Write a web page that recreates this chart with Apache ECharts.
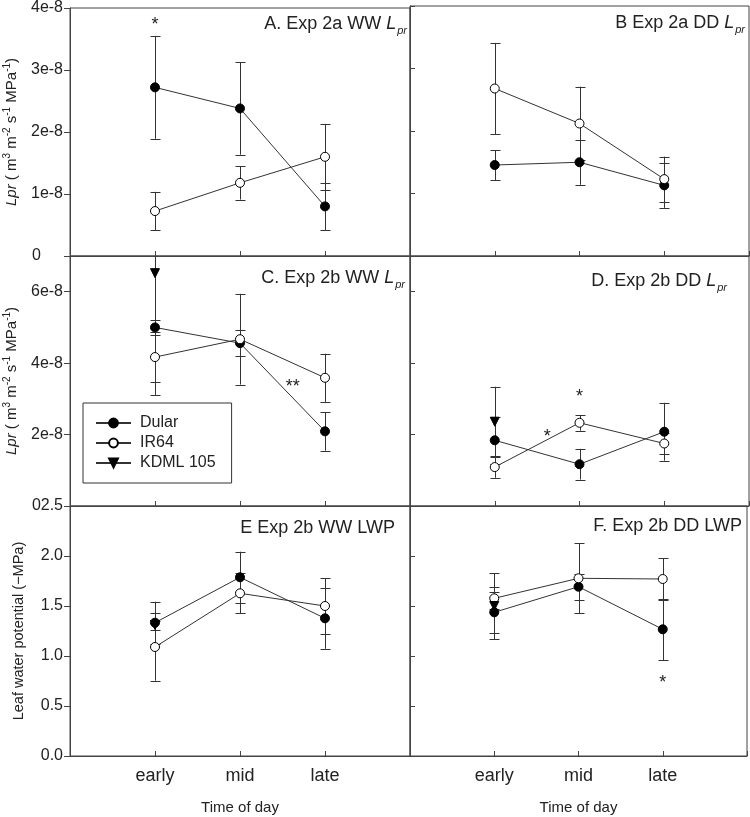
<!DOCTYPE html>
<html>
<head>
<meta charset="utf-8">
<script src="https://cdn.jsdelivr.net/npm/echarts@6/dist/echarts.min.js"></script>
<style>
html, body { margin: 0; padding: 0; background: #fff; }
#chart { width: 750px; height: 817px; }
</style>
</head>
<body>
<div id="chart"></div>
<script>
'use strict'
var categories = ['early', 'mid', 'late']
var varieties = ['Dular', 'IR64', 'KDML 105']

// A. Exp 2a WW Lpr
var aDular = [2.72e-8, 2.38e-8, 0.80e-8]
var aDularErr = [0.83e-8, 0.745e-8, 0.38e-8]
var aIR64 = [0.725e-8, 1.18e-8, 1.60e-8]
var aIR64Err = [0.31e-8, 0.27e-8, 0.53e-8]
// B Exp 2a DD Lpr
var bDular = [1.456e-8, 1.50e-8, 1.13e-8]
var bDularErr = [0.24e-8, 0.36e-8, 0.36e-8]
var bIR64 = [2.68e-8, 2.12e-8, 1.23e-8]
var bIR64Err = [0.73e-8, 0.59e-8, 0.36e-8]
// C. Exp 2b WW Lpr
var cDular = [5.0e-8, 4.56e-8, 2.09e-8]
var cDularErr = [0.21e-8, 0.355e-8, 0.54e-8]
var cIR64 = [4.17e-8, 4.67e-8, 3.59e-8]
var cIR64Err = [0.71e-8, 1.27e-8, 0.675e-8]
var cKDML = [6.52e-8, null, null]
var cKDMLErr = [3.41e-8, null, null]
// D. Exp 2b DD Lpr
var dDular = [1.84e-8, 1.17e-8, 2.08e-8]
var dDularErr = [0.66e-8, 0.43e-8, 0.81e-8]
var dIR64 = [1.09e-8, 2.33e-8, 1.75e-8]
var dIR64Err = [0.30e-8, 0.22e-8, 0.29e-8]
var dKDML = [2.36e-8, null, null]
var dKDMLErr = [0.98e-8, null, null]
// E Exp 2b WW LWP
var eDular = [1.333, 1.787, 1.377]
var eDularErr = [0.21, 0.256, 0.305]
var eIR64 = [1.09, 1.627, 1.50]
var eIR64Err = [0.337, 0.20, 0.28]
var eKDML = [1.31, null, null]
var eKDMLErr = [0.045, null, null]
// F. Exp 2b DD LWP
var fDular = [1.437, 1.693, 1.267]
var fDularErr = [0.206, 0.13, 0.307]
var fIR64 = [1.577, 1.777, 1.77]
var fIR64Err = [0.11, 0.35, 0.207]
var fKDML = [1.50, null, null]
var fKDMLErr = [0.33, null, null]

// significance marks: [position on time axis (1 = early), value, text]
var aStars = [[1, 3.81e-8, '*']]
var cStars = [[2.62, 3.48e-8, '**']]
var dStars = [[2, 3.20e-8, '*'], [1.62, 2.08e-8, '*']]
var fStars = [[3, 0.777, '*']]

var FONT = "'Liberation Sans', Arial, sans-serif"
var INK = '#222'
var LINE = '#444'

var symbols = {
	'Dular': { symbol: 'circle', rotate: 0, fill: '#000' },
	'IR64': { symbol: 'circle', rotate: 0, fill: '#fff' },
	'KDML 105': { symbol: 'triangle', rotate: 180, fill: '#000' }
}

var panels = [
	{ title: 'A. Exp 2a WW ', sub: true, tx: 407, ty: 24, row: 0, col: 0,
		data: [[aDular, aDularErr], [aIR64, aIR64Err]], stars: aStars },
	{ title: 'B Exp 2a DD ', sub: true, tx: 745, ty: 23, row: 0, col: 1,
		data: [[bDular, bDularErr], [bIR64, bIR64Err]], stars: [] },
	{ title: 'C. Exp 2b WW ', sub: true, tx: 405, ty: 278, row: 1, col: 0,
		data: [[cDular, cDularErr], [cIR64, cIR64Err], [cKDML, cKDMLErr]], stars: cStars },
	{ title: 'D. Exp 2b DD ', sub: true, tx: 727, ty: 281, row: 1, col: 1,
		data: [[dDular, dDularErr], [dIR64, dIR64Err], [dKDML, dKDMLErr]], stars: dStars },
	{ title: 'E Exp 2b WW LWP', sub: false, tx: 395, ty: 528, row: 2, col: 0,
		data: [[eDular, eDularErr], [eIR64, eIR64Err], [eKDML, eKDMLErr]], stars: [] },
	{ title: 'F. Exp 2b DD LWP', sub: false, tx: 742, ty: 526, row: 2, col: 1,
		data: [[fDular, fDularErr], [fIR64, fIR64Err], [fKDML, fKDMLErr]], stars: fStars }
]

var rowAxes = [
	{ min: 0, max: 4e-8, interval: 1e-8 },
	{ min: 0, max: 7e-8, interval: 2e-8 },
	{ min: 0, max: 2.5, interval: 0.5 }
]

function lprLabel(v) {
	if (v === 0) return '{z|0}'
	if (v > 6.5e-8) return ''
	return Math.round(v * 1e8) + 'e-8'
}

var lprName = '{i|Lpr}{n| ( m}{u|3}{n| m}{u|-2}{n| s}{u|-1}{n| MPa}{u|-1}{n|)}'
var nameRich = {
	i: { fontFamily: FONT, fontSize: 15, fontStyle: 'italic', color: INK },
	n: { fontFamily: FONT, fontSize: 15, color: INK },
	u: { fontFamily: FONT, fontSize: 10, color: INK, padding: [0, 0, 9, 0] }
}

function renderErrorBar(params, api) {
	var x = api.value(0), mean = api.value(1), err = api.value(2)
	var cs = params.coordSys
	var top = api.coord([x, mean + err])
	var bottom = api.coord([x, mean - err])
	var px = Math.round(top[0]) + 0.5
	var y1 = Math.max(top[1], cs.y), y2 = Math.min(bottom[1], cs.y + cs.height)
	var style = { stroke: '#333', lineWidth: 1 }
	var kids = [{ type: 'line', shape: { x1: px, y1: y1, x2: px, y2: y2 }, style: style }]
	if (top[1] >= cs.y) {
		var ty = Math.round(top[1]) + 0.5
		kids.push({ type: 'line', shape: { x1: px - 5, y1: ty, x2: px + 5, y2: ty }, style: style })
	}
	if (bottom[1] <= cs.y + cs.height) {
		var by = Math.round(bottom[1]) + 0.5
		kids.push({ type: 'line', shape: { x1: px - 5, y1: by, x2: px + 5, y2: by }, style: style })
	}
	return { type: 'group', children: kids }
}

var grid = [], xAxis = [], yAxis = [], series = [], graphic = []

panels.forEach(function (p, i) {
	var left = p.col === 0 ? 70 : 410
	grid.push({ left: left, top: 6 + p.row * 250, width: p.col === 0 ? 340 : 339, height: 250,
		show: true, borderColor: LINE, borderWidth: 1, containLabel: false })
	var bottomRow = p.row === 2
	xAxis.push({
		type: 'value', gridIndex: i, min: 0, max: 4, interval: 1,
		axisLine: { show: true, lineStyle: { color: LINE } },
		axisTick: { show: true, inside: true, length: 5, lineStyle: { color: LINE } },
		splitLine: { show: false },
		axisLabel: { show: bottomRow, margin: 11, fontSize: 18, fontFamily: FONT, color: INK,
			formatter: function (v) { return categories[v - 1] || '' } },
		name: bottomRow ? 'Time of day' : '', nameLocation: 'middle', nameGap: 44,
		nameTextStyle: { fontSize: 15, fontFamily: FONT, color: INK }
	})
	var ax = rowAxes[p.row]
	var leftCol = p.col === 0
	var yName = ''
	if (leftCol) yName = p.row === 2 ? 'Leaf water potential (\u2212MPa)' : lprName
	yAxis.push({
		type: 'value', gridIndex: i, min: ax.min, max: ax.max, interval: ax.interval,
		axisLine: { show: true, lineStyle: { color: LINE } },
		axisTick: { show: true, inside: !leftCol, length: leftCol ? 6 : 5, lineStyle: { color: LINE } },
		splitLine: { show: false },
		axisLabel: { show: leftCol, margin: 7, fontSize: 16, fontFamily: FONT, color: INK,
			formatter: p.row === 2 ? function (v) { return v.toFixed(1) } : lprLabel,
			rich: { z: { fontSize: 16, fontFamily: FONT, color: INK, padding: [0, 22, 0, 0] } } },
		name: yName, nameLocation: 'middle', nameRotate: 90, nameGap: p.row === 2 ? 44 : 49,
		nameTextStyle: p.row === 2 ? { fontSize: 14.5, fontFamily: FONT, color: INK } : { rich: nameRich }
	})

	// error bars below the markers
	var bars = []
	p.data.forEach(function (d) {
		d[0].forEach(function (v, k) { if (v !== null) bars.push([k + 1, v, d[1][k]]) })
	})
	series.push({ type: 'custom', xAxisIndex: i, yAxisIndex: i, data: bars, z: 1,
		renderItem: renderErrorBar, silent: true })

	p.data.forEach(function (d, j) {
		var name = varieties[j]
		var s = symbols[name]
		var pts = []
		d[0].forEach(function (v, k) { if (v !== null) pts.push([k + 1, v]) })
		series.push({
			type: 'line', name: name, xAxisIndex: i, yAxisIndex: i, data: pts, z: 3,
			symbol: s.symbol, symbolRotate: s.rotate, symbolSize: 9, showSymbol: true,
			lineStyle: { color: '#333', width: 1 },
			itemStyle: { color: s.fill, borderColor: '#000', borderWidth: 1 },
			emphasis: { disabled: true }, silent: true
		})
	})

	if (p.stars.length) {
		var stars = p.stars
		series.push({
			type: 'custom', xAxisIndex: i, yAxisIndex: i, z: 4, silent: true,
			data: stars.map(function (s) { return [s[0], s[1]] }),
			renderItem: function (params, api) {
				var c = api.coord([api.value(0), api.value(1)])
				return { type: 'text', x: c[0], y: c[1] + 5,
					style: { text: stars[params.dataIndex][2], align: 'center', verticalAlign: 'middle',
						fontSize: 18, fontFamily: FONT, fill: INK } }
			}
		})
	}

	var txt = p.sub ? '{n|' + p.title + '}{i|L}{s|pr}' : '{n|' + p.title + '}'
	graphic.push({
		type: 'text', x: p.tx, y: p.ty, z: 10,
		style: {
			text: txt, align: 'right', verticalAlign: 'middle',
			rich: {
				n: { fontSize: 18, fontFamily: FONT, fill: INK },
				i: { fontSize: 18, fontFamily: FONT, fontStyle: 'italic', fill: INK },
				s: { fontSize: 11, fontFamily: FONT, fontStyle: 'italic', fill: INK, padding: [14, 0, 0, 1] }
			}
		}
	})
})

var chart = echarts.init(document.getElementById('chart'))
chart.setOption({
	animation: false,
	backgroundColor: '#fff',
	grid: grid,
	xAxis: xAxis,
	yAxis: yAxis,
	series: series,
	graphic: graphic,
	legend: {
		data: varieties, orient: 'vertical', left: 83, top: 403,
		padding: [12, 16, 12, 12], itemGap: 4, itemWidth: 35, itemHeight: 11,
		borderColor: '#333', borderWidth: 1, backgroundColor: '#fff',
		selectedMode: false,
		textStyle: { fontSize: 16, fontFamily: FONT, color: INK, lineHeight: 16, padding: [0, 0, 0, 4] }
	}
})
window.onresize = chart.resize
</script>
</body>
</html>
